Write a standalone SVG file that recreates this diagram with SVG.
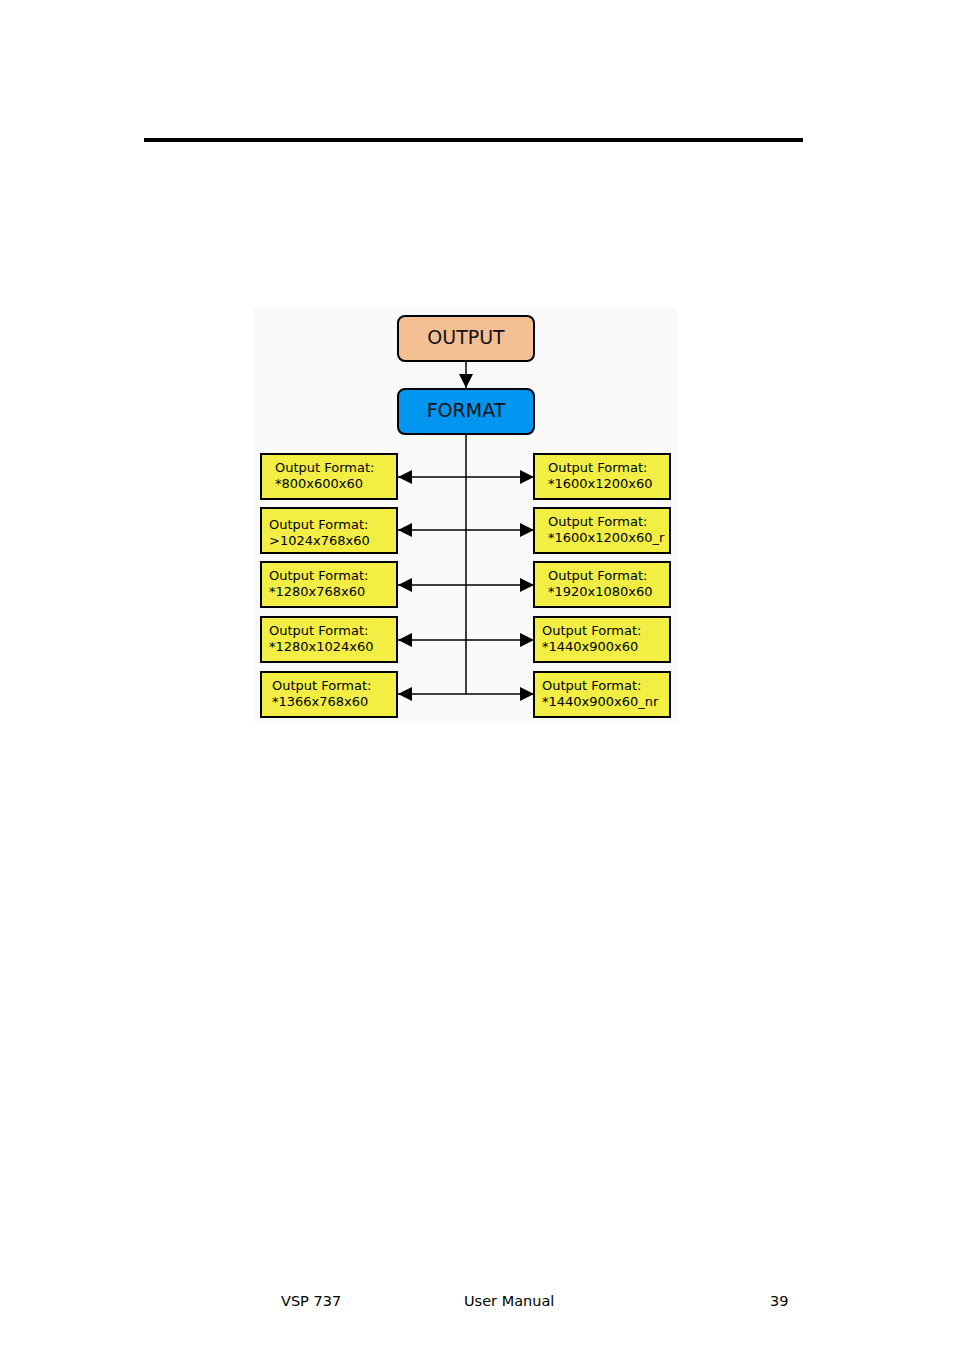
<svg xmlns="http://www.w3.org/2000/svg" width="954" height="1350" viewBox="0 0 954 1350">
<style>
.b{fill:#f2ee44;stroke:#000;stroke-width:2}
.t{font-family:"DejaVu Sans",sans-serif;font-size:13px;fill:#000}
.h{font-family:"DejaVu Sans",sans-serif;font-size:19px;fill:#111;text-anchor:middle}
.f{font-family:"DejaVu Sans",sans-serif;font-size:14.5px;fill:#000}
.c{stroke:#000;stroke-width:1.5;fill:none}
</style>
<defs><marker id="a" markerWidth="10" markerHeight="10" refX="10" refY="5" orient="auto" markerUnits="userSpaceOnUse"><path d="M0,0L12,5L0,10z" fill="#000" transform="scale(1.0)"/></marker>
<marker id="ar" viewBox="0 0 10 10" markerWidth="14" markerHeight="14" refX="10" refY="5" orient="auto-start-reverse" markerUnits="userSpaceOnUse"><path d="M0,0L10,5L0,10z" fill="#000"/></marker></defs>
<rect width="954" height="1350" fill="#fff"/>
<rect x="144" y="138" width="659" height="4" fill="#000"/>
<rect x="253" y="308" width="424" height="414" fill="#fafafa"/>
<g id="output"><rect x="398" y="316" width="136" height="45" rx="7" fill="#f5bf94" stroke="#000" stroke-width="2"/><text class="h" x="466" y="344">OUTPUT</text></g>
<g id="format"><rect x="398" y="389" width="136" height="45" rx="7" fill="#0095ee" stroke="#000" stroke-width="2"/><text class="h" x="466" y="417">FORMAT</text></g>
<g id="connectors">
<path class="c" d="M466,361V388" marker-end="url(#ar)"/>
<path class="c" d="M466,434V694"/>
<path class="c" d="M398,477H534" marker-start="url(#ar)" marker-end="url(#ar)"/>
<path class="c" d="M398,530H534" marker-start="url(#ar)" marker-end="url(#ar)"/>
<path class="c" d="M398,585H534" marker-start="url(#ar)" marker-end="url(#ar)"/>
<path class="c" d="M398,640H534" marker-start="url(#ar)" marker-end="url(#ar)"/>
<path class="c" d="M398,694H534" marker-start="url(#ar)" marker-end="url(#ar)"/>
</g>
<g id="l1"><rect class="b" x="261" y="454" width="136" height="45"/><text class="t" x="275" y="472">Output Format:</text><text class="t" x="275" y="488">*800x600x60</text></g>
<g id="l2"><rect class="b" x="261" y="508" width="136" height="45"/><text class="t" x="269" y="529">Output Format:</text><text class="t" x="269" y="545">&gt;1024x768x60</text></g>
<g id="l3"><rect class="b" x="261" y="562" width="136" height="45"/><text class="t" x="269" y="580">Output Format:</text><text class="t" x="269" y="596">*1280x768x60</text></g>
<g id="l4"><rect class="b" x="261" y="617" width="136" height="45"/><text class="t" x="269" y="635">Output Format:</text><text class="t" x="269" y="651">*1280x1024x60</text></g>
<g id="l5"><rect class="b" x="261" y="672" width="136" height="45"/><text class="t" x="272" y="690">Output Format:</text><text class="t" x="272" y="706">*1366x768x60</text></g>
<g id="r1"><rect class="b" x="534" y="454" width="136" height="45"/><text class="t" x="548" y="472">Output Format:</text><text class="t" x="548" y="488">*1600x1200x60</text></g>
<g id="r2"><rect class="b" x="534" y="508" width="136" height="45"/><text class="t" x="548" y="526">Output Format:</text><text class="t" x="548" y="542">*1600x1200x60_r</text></g>
<g id="r3"><rect class="b" x="534" y="562" width="136" height="45"/><text class="t" x="548" y="580">Output Format:</text><text class="t" x="548" y="596">*1920x1080x60</text></g>
<g id="r4"><rect class="b" x="534" y="617" width="136" height="45"/><text class="t" x="542" y="635">Output Format:</text><text class="t" x="542" y="651">*1440x900x60</text></g>
<g id="r5"><rect class="b" x="534" y="672" width="136" height="45"/><text class="t" x="542" y="690">Output Format:</text><text class="t" x="542" y="706">*1440x900x60_nr</text></g>
<text class="f" x="281" y="1306">VSP 737</text>
<text class="f" x="464" y="1306">User Manual</text>
<text class="f" x="770" y="1306">39</text>
</svg>
